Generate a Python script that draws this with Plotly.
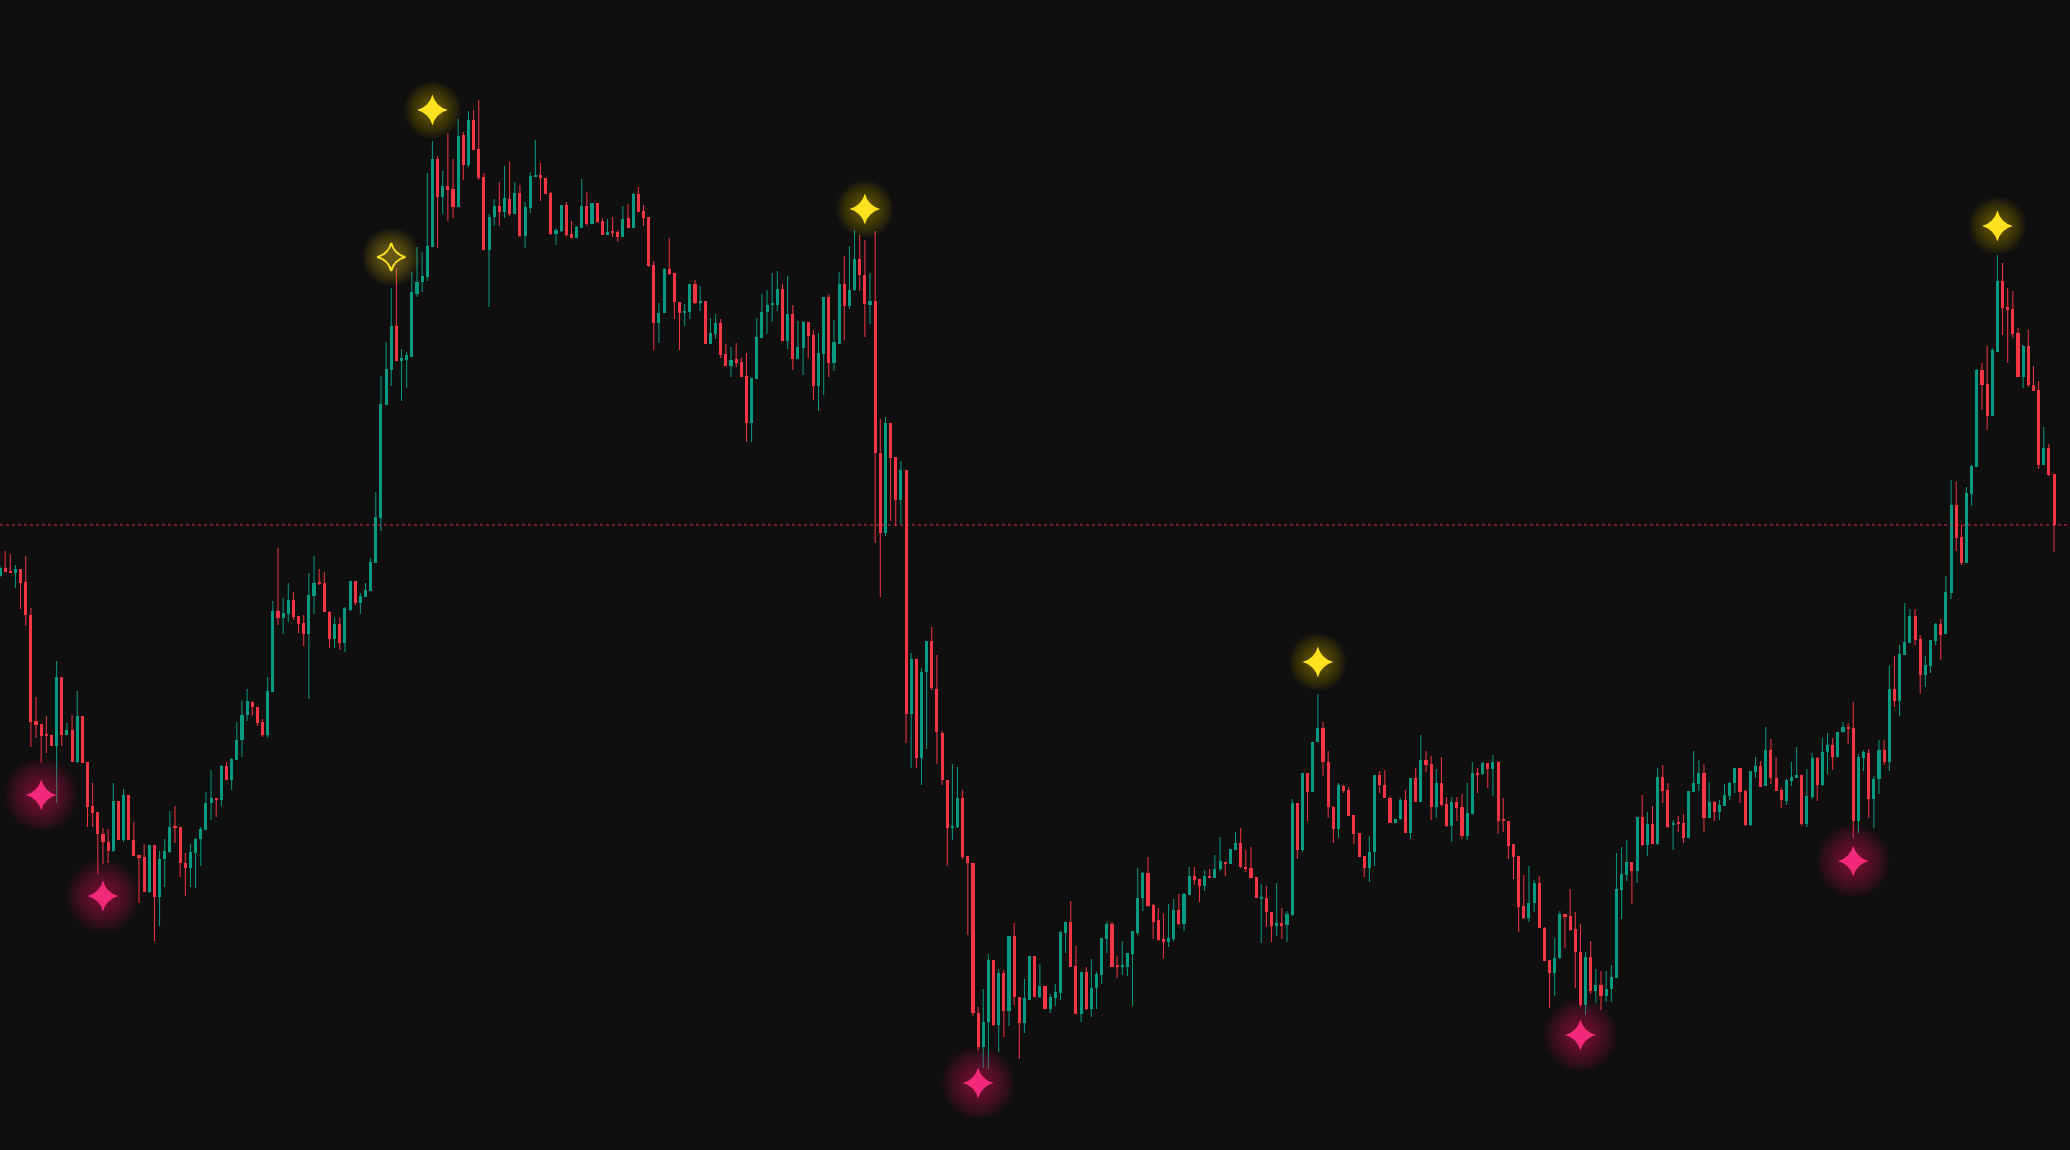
import plotly.graph_objects as go

# ---------------- data (OHLC, one entry per candle) ----------------
opens = [574,582,579,577,581,568,535,429,426,415,415,404,473,415,420,388,434,388,344,338,
         316,308,299,349,310,355,310,295,293,258,305,253,291,298,323,323,287,282,297,311,
         320,347,352,350,384,370,390,410,435,448,443,428,415,458,539,532,536,550,534,527,
         516,554,567,567,538,511,526,507,540,569,547,553,559,587,632,745,780,824,789,790,
         793,856,868,873,903,991,953,964,961,943,1015,985,1030,1001,973,900,933,944,938,951,
         936,957,914,942,973,975,972,957,916,919,945,916,912,922,944,926,947,929,915,918,
         918,913,932,922,956,939,933,885,827,837,881,877,848,837,838,866,847,849,806,816,
         827,796,784,791,788,774,727,771,812,838,845,845,861,809,836,791,802,828,815,764,
         796,853,787,806,866,844,860,891,875,845,849,697,617,727,693,650,680,436,491,392,
         478,509,461,417,370,322,323,352,294,287,137,103,128,190,125,177,139,214,153,127,
         150,194,153,164,141,152,157,217,228,184,136,178,141,162,175,211,226,184,183,183,
         196,217,252,277,245,230,211,208,211,240,226,255,274,271,264,274,272,281,288,286,
         300,307,283,282,273,251,252,238,224,227,225,235,347,300,377,358,408,422,388,343,
         321,364,360,335,317,294,282,298,375,365,352,327,331,350,317,372,348,390,386,343,
         367,346,324,348,343,314,336,377,376,387,381,388,330,329,306,294,244,232,247,267,
         222,190,177,192,236,234,221,198,145,193,159,165,154,161,172,260,275,288,279,333,
         305,326,306,373,360,325,327,327,312,358,366,377,332,348,338,344,354,367,382,359,
         325,378,384,364,400,372,360,349,369,372,375,326,353,392,365,398,405,393,418,423,
         422,329,392,397,351,371,400,388,461,449,495,507,534,511,475,484,509,526,516,557,
         645,613,587,656,683,780,766,734,798,869,843,841,817,773,804,765,760,685,702,676]

highs = [584,599,596,585,581,594,542,453,426,434,415,489,473,427,435,459,434,388,367,338,
         322,321,367,349,361,355,328,295,306,305,305,299,311,339,344,323,297,306,312,323,
         358,380,352,385,388,392,428,450,461,449,443,431,473,549,602,552,567,558,534,535,
         577,594,581,578,539,532,532,543,569,569,557,567,592,658,774,808,862,882,801,798,
         878,903,898,977,1009,994,979,1017,991,1031,1018,1039,1040,1050,977,936,951,968,984,988,
         968,965,948,978,1010,987,972,958,922,945,948,929,924,971,958,947,947,932,931,933,
         920,944,946,957,963,945,933,889,847,882,912,877,848,846,866,870,864,849,832,836,
         831,806,803,807,792,797,772,832,856,860,877,879,866,874,845,829,829,828,820,817,
         853,856,830,878,894,904,920,915,910,877,919,731,733,727,693,689,680,497,491,482,
         509,523,495,419,370,386,383,360,294,287,143,161,196,190,181,180,214,227,153,171,
         194,194,186,164,156,166,219,228,249,204,178,183,191,178,212,228,228,194,209,197,
         219,282,278,293,246,242,236,246,251,256,257,283,283,271,280,281,295,313,288,301,
         318,322,300,303,273,266,264,238,267,242,239,351,347,377,377,408,456,428,399,344,
         367,365,363,335,317,294,314,375,379,380,354,331,352,360,372,382,415,399,394,381,
         393,353,353,353,356,367,388,382,388,387,395,389,352,329,306,294,275,284,270,274,
         223,190,212,239,236,261,238,226,198,209,181,179,179,185,297,303,310,288,333,355,
         338,344,382,385,367,330,334,336,359,399,390,386,368,349,350,366,368,382,382,360,
         379,393,389,423,411,393,362,371,388,403,375,381,397,393,412,417,412,418,428,427,
         448,396,400,401,374,410,410,484,494,505,547,541,541,515,494,510,527,531,574,670,
         668,625,663,685,781,787,804,802,895,887,862,859,822,805,820,784,769,723,706,676]

lows = [573,578,577,562,541,524,403,412,387,397,404,347,404,415,388,387,387,323,323,276,
        286,287,298,310,308,310,294,247,258,257,209,224,263,297,307,273,254,263,262,284,
        320,330,333,344,370,360,390,393,429,434,424,413,412,458,525,516,528,530,517,504,
        451,536,565,538,502,502,500,498,539,545,536,553,559,587,619,745,764,789,749,762,
        793,853,858,869,903,902,936,929,932,943,970,983,1000,970,900,843,924,924,932,934,
        936,913,902,937,973,949,956,915,905,918,913,912,912,922,924,926,927,915,915,913,
        908,913,922,922,938,924,883,800,807,837,875,831,800,824,831,846,839,806,806,811,
        792,784,773,783,773,708,708,771,812,816,828,839,809,801,780,791,775,792,750,739,
        755,773,779,806,810,841,859,859,813,826,607,553,614,629,624,626,407,382,382,365,
        401,460,386,365,284,310,322,291,215,134,99,82,81,124,98,113,124,145,91,117,
        150,153,152,141,137,144,150,197,183,136,128,140,133,141,166,197,183,172,175,174,
        144,215,239,243,211,209,192,203,209,225,219,255,265,248,259,272,272,279,274,286,
        300,282,278,272,252,207,223,208,214,211,208,234,291,298,329,358,408,374,332,307,
        312,357,334,306,293,273,268,284,357,352,327,327,330,317,311,348,348,378,330,332,
        344,323,308,329,311,310,336,357,375,362,354,316,318,291,271,218,231,228,238,222,
        189,142,154,191,202,219,162,143,135,156,147,140,148,148,172,231,269,246,267,304,
        294,306,305,347,322,300,318,307,312,358,359,318,332,329,330,344,350,357,347,324,
        324,372,363,364,366,359,342,345,364,372,324,323,351,349,364,376,380,393,417,406,
        312,317,379,332,322,356,385,379,443,434,495,507,505,456,463,477,505,490,516,551,
        599,585,587,644,683,740,720,734,798,815,787,812,773,762,763,759,681,685,674,598]

closes = [582,578,577,581,567,535,428,425,414,414,404,473,415,420,388,434,387,343,337,316,
          308,299,349,310,355,310,294,292,258,305,253,291,299,323,322,287,282,298,311,321,
          347,352,350,384,370,391,410,435,449,443,427,415,459,539,532,537,550,533,526,516,
          555,567,566,538,511,526,507,542,569,547,554,560,588,633,746,781,824,789,792,795,
          858,868,874,904,991,953,964,960,943,1014,985,1030,1000,972,900,933,944,938,952,936,
          957,914,943,974,975,972,956,916,920,945,915,912,923,944,926,947,928,915,918,917,
          913,931,922,956,938,932,884,827,837,881,876,848,837,839,866,847,849,806,817,827,
          795,784,790,787,773,727,772,813,838,845,847,861,809,836,791,803,828,814,764,797,
          853,787,808,866,844,860,891,875,846,849,697,617,727,692,650,680,436,491,392,478,
          509,462,418,370,322,323,352,293,287,137,103,128,190,125,177,139,214,153,127,152,
          194,153,164,141,153,158,218,228,183,136,178,141,162,176,212,226,183,183,184,197,
          219,252,277,244,228,210,208,212,240,226,256,274,270,264,274,272,281,289,286,301,
          307,283,281,272,252,252,238,224,227,224,236,347,300,377,358,408,422,388,343,321,
          365,359,334,316,293,282,298,375,365,352,327,331,350,317,372,348,390,385,343,367,
          345,324,348,342,314,337,377,375,387,381,388,329,329,304,293,243,232,247,267,222,
          189,177,192,236,233,220,198,145,193,159,165,154,161,173,261,276,288,279,333,305,
          326,306,373,359,323,327,326,312,359,367,377,332,348,338,345,355,367,382,358,325,
          379,384,363,400,372,359,350,370,373,375,326,354,392,365,398,405,393,418,423,421,
          329,393,398,351,371,400,388,461,449,496,508,534,510,475,485,510,526,515,558,645,
          612,587,657,684,780,765,734,800,869,842,840,816,773,804,765,759,685,702,675,625]

# signal markers (candle index, price)
top_star_idx = [84, 168, 256, 388]
top_star_price = [1040, 941, 488, 924]
hollow_star_idx = [76]
hollow_star_price = [893]
bottom_star_idx = [8, 20, 190, 307, 360]
bottom_star_price = [355, 254, 67, 115, 289]

# ---------------- styling ----------------
BG = "#0f0f0f"
UP = "#089981"
DOWN = "#F23645"
YELLOW = "#FFE11F"
PINK = "#F2297A"

n = len(opens)
idx = list(range(n))
is_up = [closes[i] >= opens[i] for i in idx]

fig = go.Figure()

# wicks
for up_flag, col in ((True, UP), (False, DOWN)):
    xs, ys = [], []
    for i in idx:
        if is_up[i] == up_flag:
            xs += [i, i, None]
            ys += [lows[i], highs[i], None]
    fig.add_trace(go.Scatter(x=xs, y=ys, mode="lines",
                             line=dict(color=col, width=1),
                             hoverinfo="skip", showlegend=False))

# bodies
bases = [min(opens[i], closes[i]) for i in idx]
heights = [max(abs(closes[i] - opens[i]), 1.2) for i in idx]
colors = [UP if u else DOWN for u in is_up]
fig.add_trace(go.Bar(x=idx, y=heights, base=bases, width=0.6,
                     marker=dict(color=colors, line=dict(width=0)),
                     hoverinfo="skip", showlegend=False))

# soft glows: many stacked translucent discs approximate a radial gradient
def add_glow(xv, yv, color, size_max, size_min, step, op):
    s = size_max
    while s >= size_min:
        fig.add_trace(go.Scatter(x=xv, y=yv, mode="markers",
                                 marker=dict(symbol="circle", size=s, color=color,
                                             line=dict(width=0)),
                                 opacity=op, hoverinfo="skip", showlegend=False))
        s -= step

add_glow(top_star_idx, top_star_price, "#E8C81A", 58, 14, 3, 0.03)
add_glow(hollow_star_idx, hollow_star_price, "#E8C81A", 58, 14, 3, 0.03)
add_glow(bottom_star_idx, bottom_star_price, "#E0206A", 74, 14, 3, 0.033)

# stars
fig.add_trace(go.Scatter(x=top_star_idx, y=top_star_price, mode="markers",
                         marker=dict(symbol="star-diamond", size=22, color=YELLOW,
                                     line=dict(width=0)),
                         hoverinfo="skip", showlegend=False))
fig.add_trace(go.Scatter(x=hollow_star_idx, y=hollow_star_price, mode="markers",
                         marker=dict(symbol="star-diamond-open", size=20, color=YELLOW,
                                     line=dict(width=2, color="#F2D21F")),
                         hoverinfo="skip", showlegend=False))
fig.add_trace(go.Scatter(x=bottom_star_idx, y=bottom_star_price, mode="markers",
                         marker=dict(symbol="star-diamond", size=22, color=PINK,
                                     line=dict(width=0)),
                         hoverinfo="skip", showlegend=False))

# last price line
fig.add_shape(type="line", xref="paper", x0=0, x1=1, yref="y",
              y0=closes[-1], y1=closes[-1],
              line=dict(color="rgba(242,54,69,0.85)", width=1, dash="dot"))

fig.update_layout(
    width=2070, height=1150, autosize=False,
    margin=dict(l=0, r=0, t=0, b=0, pad=0),
    paper_bgcolor=BG, plot_bgcolor=BG,
    showlegend=False, bargap=0,
    xaxis=dict(range=[0, 402.1], visible=False, showgrid=False, zeroline=False),
    yaxis=dict(range=[0, 1150], visible=False, showgrid=False, zeroline=False),
)

fig.write_html("out.html", config={"displayModeBar": False},
               post_script="document.body.style.margin='0';document.body.style.background='#0f0f0f';document.body.style.overflow='hidden';")
